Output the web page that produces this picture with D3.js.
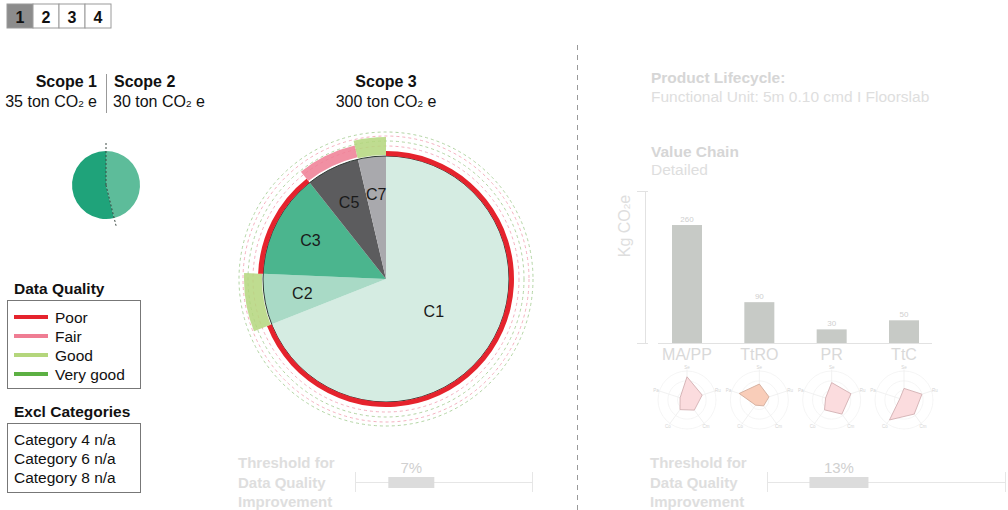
<!DOCTYPE html>
<html>
<head>
<meta charset="utf-8">
<script src="https://cdn.jsdelivr.net/npm/d3@7"></script>
<style>
  body { margin: 0; background: #fff; }
  svg { display: block; font-family: "Liberation Sans", Arial, Helvetica, sans-serif; }
</style>
</head>
<body>
<svg id="chart" width="1008" height="510"></svg>
<script>
// ---- data ----
const tabLabels = ["1", "2", "3", "4"];
const activeTab = "1";

const scopeNames = ["Scope 1", "Scope 2"];
const scopeValues = [35, 30];

const scope3Name = "Scope 3";
const scope3Total = 300;
const categoryNames = ["C1", "C2", "C3", "C5", "C7"];
const categoryValues = [207, 20, 41, 21, 11];
const categoryQuality = ["Poor", "Good", "Poor", "Fair", "Good"];

const qualityLevels = ["Poor", "Fair", "Good", "Very good"];
const excludedCategories = ["Category 4 n/a", "Category 6 n/a", "Category 8 n/a"];

const stageNames = ["MA/PP", "TtRO", "PR", "TtC"];
const stageValues = [260, 90, 30, 50];
const radarAxisLabels = ["Se", "Ru", "Cm", "Co", "Pa"];
const radarValues = [
  [0.80, 0.55, 0.43, 0.41, 0.25],
  [0.55, 0.35, 0.25, 0.22, 0.73],
  [0.60, 0.70, 0.60, 0.42, 0.22],
  [0.40, 0.65, 0.60, 0.85, 0.15]
];
const thresholdValues = [7, 13];

// ---- styles ----
const qualityColor = { "Poor": "#e5232d", "Fair": "#ef7d93", "Good": "#b4d67c", "Very good": "#5cb043" };
const categoryColor = { "C1": "#d5ece2", "C2": "#a9dac6", "C3": "#4bb58e", "C5": "#5c5c5e", "C7": "#a9a9ad" };
const scopeColor = ["#1fa37a", "#5dbc9a"];
const faint = "#d6d6d6", fainter = "#dedede";

const svg = d3.select("#chart");

function co2Text(sel, prefix, suffix) {
  sel.append("tspan").text(prefix + "CO");
  sel.append("tspan").attr("font-size", "0.62em").text("2");
  sel.append("tspan").text(suffix);
}

// ---- page tabs ----
const tabX = d3.scaleBand().domain(tabLabels).range([7, 111]);
const tabs = svg.append("g").selectAll("g").data(tabLabels).join("g");
tabs.append("rect")
  .attr("x", d => tabX(d)).attr("y", 4)
  .attr("width", tabX.bandwidth()).attr("height", 24)
  .attr("fill", d => d === activeTab ? "#8c8c8c" : "#fff")
  .attr("stroke", "#9a9a9a");
tabs.append("text")
  .attr("x", d => tabX(d) + tabX.bandwidth() / 2).attr("y", 23)
  .attr("text-anchor", "middle").attr("font-weight", "bold").attr("font-size", 16)
  .attr("fill", "#111").text(d => d);

// ---- scope 1 / scope 2 ----
const s12 = svg.append("g");
[0, 1].forEach(i => {
  const x = i === 0 ? 97 : 114;
  const anchor = i === 0 ? "end" : "start";
  s12.append("text").attr("x", x).attr("y", 87).attr("text-anchor", anchor)
    .attr("font-size", 16).attr("font-weight", "bold").attr("fill", "#111").text(scopeNames[i]);
  s12.append("text").attr("x", i === 0 ? 97 : 113).attr("y", 107).attr("text-anchor", anchor)
    .attr("font-size", 16).attr("fill", "#111")
    .call(co2Text, scopeValues[i] + " ton ", " e");
});
s12.append("line").attr("x1", 106.5).attr("x2", 106.5).attr("y1", 74).attr("y2", 113)
  .attr("stroke", "#999").attr("stroke-width", 1);

const smallPie = d3.pie().sort(null)(scopeValues.slice().reverse());
const smallArc = d3.arc().innerRadius(0).outerRadius(34);
const sp = svg.append("g").attr("transform", "translate(106,185)");
sp.selectAll("path").data(smallPie).join("path")
  .attr("d", smallArc)
  .attr("fill", (d, i) => scopeColor[1 - i]);
// boundary between the two scopes
sp.selectAll("line").data([smallPie[0].startAngle, smallPie[0].endAngle]).join("line")
  .attr("x1", 0).attr("y1", 0)
  .attr("x2", a => 44 * Math.sin(a)).attr("y2", a => -44 * Math.cos(a))
  .attr("stroke", "#3d4a44").attr("stroke-width", 1).attr("stroke-dasharray", "2,2");

// ---- scope 3 ----
svg.append("text").attr("x", 386).attr("y", 87).attr("text-anchor", "middle")
  .attr("font-size", 16).attr("font-weight", "bold").attr("fill", "#111").text(scope3Name);
svg.append("text").attr("x", 386).attr("y", 107).attr("text-anchor", "middle")
  .attr("font-size", 16).attr("fill", "#111")
  .call(co2Text, scope3Total + " ton ", " e");

const cx = 386, cy = 279, R = 123;
const main = svg.append("g").attr("transform", `translate(${cx},${cy})`);

// dashed guide rings for data quality levels
const ringRadii = [133, 138, 143, 147];
const ringColors = ["#f2a7b8", "#a9cf98", "#f2a7b8", "#a9cf98"];
main.selectAll("circle.ring").data(ringRadii).join("circle")
  .attr("class", "ring").attr("r", d => d)
  .attr("fill", "none").attr("stroke", (d, i) => ringColors[i])
  .attr("stroke-width", 0.9).attr("stroke-dasharray", "3,3");

const pie = d3.pie().sort(null).value(d => d.value);
const slices = pie(categoryNames.map((c, i) => ({ name: c, value: categoryValues[i], quality: categoryQuality[i] })));
const arc = d3.arc().innerRadius(0).outerRadius(R);
main.selectAll("path.slice").data(slices).join("path")
  .attr("class", "slice").attr("d", arc)
  .attr("fill", d => categoryColor[d.data.name]);
main.append("circle").attr("r", R).attr("fill", "none").attr("stroke", "#2f3a35").attr("stroke-width", 1);

// data quality bands per category
const bandRadius = { "Poor": [123, 128], "Fair": [125, 137], "Good": [124, 142], "Very good": [124, 142] };
const bandOpacity = { "Poor": 1, "Fair": 0.85, "Good": 0.85, "Very good": 0.85 };
main.selectAll("path.band").data(slices).join("path")
  .attr("class", "band")
  .attr("d", d => d3.arc().innerRadius(bandRadius[d.data.quality][0]).outerRadius(bandRadius[d.data.quality][1])(d))
  .attr("fill", d => qualityColor[d.data.quality])
  .attr("opacity", d => bandOpacity[d.data.quality]);

// category labels
const labelFactor = { "C1": 0.47 };
main.selectAll("text.cat").data(slices).join("text")
  .attr("class", "cat")
  .attr("transform", d => {
    const a = (d.startAngle + d.endAngle) / 2;
    const r = R * (labelFactor[d.data.name] || 0.69);
    return `translate(${r * Math.sin(a)},${-r * Math.cos(a)})`;
  })
  .attr("text-anchor", "middle").attr("dy", "0.36em")
  .attr("font-size", 16).attr("fill", "#1a1a1a").text(d => d.data.name);

// ---- legends ----
const lg = svg.append("g");
lg.append("text").attr("x", 14).attr("y", 294).attr("font-size", 15.5).attr("font-weight", "bold")
  .attr("fill", "#111").text("Data Quality");
lg.append("rect").attr("x", 7.5).attr("y", 300.5).attr("width", 133).attr("height", 88)
  .attr("fill", "none").attr("stroke", "#777");
const ly = d3.scalePoint().domain(qualityLevels).range([317, 374]);
lg.selectAll("line.q").data(qualityLevels).join("line").attr("class", "q")
  .attr("x1", 14).attr("x2", 48).attr("y1", d => ly(d)).attr("y2", d => ly(d))
  .attr("stroke", d => qualityColor[d]).attr("stroke-width", 4);
lg.selectAll("text.q").data(qualityLevels).join("text").attr("class", "q")
  .attr("x", 55).attr("y", d => ly(d) + 5.5).attr("font-size", 15.5).attr("fill", "#111").text(d => d);

lg.append("text").attr("x", 14).attr("y", 417).attr("font-size", 15.5).attr("font-weight", "bold")
  .attr("fill", "#111").text("Excl Categories");
lg.append("rect").attr("x", 7.5).attr("y", 423.5).attr("width", 133).attr("height", 69)
  .attr("fill", "none").attr("stroke", "#777");
const ey = d3.scalePoint().domain(excludedCategories).range([445, 483]);
lg.selectAll("text.ex").data(excludedCategories).join("text").attr("class", "ex")
  .attr("x", 14).attr("y", d => ey(d)).attr("font-size", 15.5).attr("fill", "#111").text(d => d);

// ---- divider ----
svg.append("line").attr("x1", 577.5).attr("x2", 577.5).attr("y1", 45).attr("y2", 510)
  .attr("stroke", "#9a9a9a").attr("stroke-width", 1).attr("stroke-dasharray", "5,5");

// ---- thresholds ----
function threshold(x0, value, scale, barWidth) {
  const g = svg.append("g");
  ["Threshold for", "Data Quality", "Improvement"].forEach((t, i) => {
    g.append("text").attr("x", x0).attr("y", 468 + i * 19.5).attr("font-size", 15)
      .attr("font-weight", "bold").attr("fill", fainter).text(t);
  });
  const [r0, r1] = scale.range();
  g.append("line").attr("x1", r0).attr("x2", r1).attr("y1", 482.5).attr("y2", 482.5)
    .attr("stroke", "#e6e6e6");
  g.selectAll("line.tk").data([r0, r1]).join("line").attr("class", "tk")
    .attr("x1", d => d + 0.5).attr("x2", d => d + 0.5).attr("y1", 472).attr("y2", 492)
    .attr("stroke", "#e6e6e6");
  g.append("rect").attr("x", scale(value) - barWidth / 2).attr("y", 477)
    .attr("width", barWidth).attr("height", 11).attr("fill", "#dcdcdc");
  g.append("text").attr("x", scale(value)).attr("y", 473).attr("text-anchor", "middle")
    .attr("font-size", 15).attr("fill", "#d0d0d0").text(value + "%");
}
threshold(238, thresholdValues[0], d3.scaleLinear().domain([0, 22]).range([355, 532]), 46);
threshold(650, thresholdValues[1], d3.scaleLinear().domain([0, 43]).range([767, 1005]), 59);

// ---- product lifecycle panel ----
const rp = svg.append("g");
rp.append("text").attr("x", 651).attr("y", 83).attr("font-size", 15.5).attr("font-weight", "bold")
  .attr("fill", faint).text("Product Lifecycle:");
rp.append("text").attr("x", 651).attr("y", 102).attr("font-size", 15.5)
  .attr("fill", fainter).text("Functional Unit: 5m 0.10 cmd I Floorslab");
rp.append("text").attr("x", 651).attr("y", 157).attr("font-size", 15.5).attr("font-weight", "bold")
  .attr("fill", faint).text("Value Chain");
rp.append("text").attr("x", 651).attr("y", 175).attr("font-size", 15.5)
  .attr("fill", fainter).text("Detailed");

const bx = d3.scalePoint().domain(stageNames).range([687, 904]);
const by = d3.scaleLinear().domain([0, 335]).range([343, 191]);
const bw = 30;
rp.append("line").attr("x1", 645.5).attr("x2", 645.5).attr("y1", by.range()[1]).attr("y2", by.range()[0])
  .attr("stroke", "#e2e2e2");
rp.selectAll("line.yt").data(by.range()).join("line").attr("class", "yt")
  .attr("x1", 637).attr("x2", 648).attr("y1", d => d + 0.5).attr("y2", d => d + 0.5).attr("stroke", "#e2e2e2");
rp.append("line").attr("x1", 658).attr("x2", 932).attr("y1", 343.5).attr("y2", 343.5).attr("stroke", "#e2e2e2");
rp.append("text").attr("transform", "translate(630,226) rotate(-90)").attr("text-anchor", "middle")
  .attr("font-size", 16).attr("fill", fainter).call(co2Text, "Kg ", "e");

rp.selectAll("rect.bar").data(stageNames).join("rect").attr("class", "bar")
  .attr("x", d => bx(d) - bw / 2).attr("width", bw)
  .attr("y", (d, i) => by(stageValues[i])).attr("height", (d, i) => by(0) - by(stageValues[i]))
  .attr("fill", "#c7cac6");
rp.selectAll("text.bv").data(stageNames).join("text").attr("class", "bv")
  .attr("x", d => bx(d)).attr("y", (d, i) => by(stageValues[i]) - 3)
  .attr("text-anchor", "middle").attr("font-size", 8).attr("fill", "#cfcfcf")
  .text((d, i) => stageValues[i]);
rp.selectAll("text.bn").data(stageNames).join("text").attr("class", "bn")
  .attr("x", d => bx(d)).attr("y", 360)
  .attr("text-anchor", "middle").attr("font-size", 16).attr("fill", "#d9d9d9").text(d => d);

// radar charts under each stage
const rr = d3.scaleLinear().domain([0, 1]).range([0, 29]);
const axisAngle = i => i * 2 * Math.PI / radarAxisLabels.length;
const radarFill = ["#fbdcde", "#f9cdb9", "#fbdcde", "#fbdcde"];
const radarStroke = ["#d3b0b2", "#d2ad9c", "#d3b0b2", "#d3b0b2"];
stageNames.forEach((s, k) => {
  const g = rp.append("g").attr("transform", `translate(${bx(s)},400)`);
  g.selectAll("circle").data([0.33, 0.66, 1]).join("circle")
    .attr("r", d => rr(d)).attr("fill", "none").attr("stroke", "#f3f3f3").attr("stroke-width", 0.8);
  g.selectAll("line").data(radarAxisLabels).join("line")
    .attr("x1", 0).attr("y1", 0)
    .attr("x2", (d, i) => rr(1.05) * Math.sin(axisAngle(i)))
    .attr("y2", (d, i) => -rr(1.05) * Math.cos(axisAngle(i)))
    .attr("stroke", "#eeeeee").attr("stroke-width", 0.8);
  g.append("path")
    .attr("d", d3.lineRadial().angle((d, i) => axisAngle(i)).radius(d => rr(d)).curve(d3.curveLinearClosed)(radarValues[k]))
    .attr("fill", radarFill[k]).attr("stroke", radarStroke[k]).attr("stroke-width", 0.9);
  g.selectAll("text").data(radarAxisLabels).join("text")
    .attr("x", (d, i) => rr(1.12) * Math.sin(axisAngle(i)))
    .attr("y", (d, i) => -rr(1.12) * Math.cos(axisAngle(i)))
    .attr("dy", "0.35em").attr("text-anchor", "middle")
    .attr("font-size", 4.5).attr("fill", "#d4d4d4").text(d => d);
});
</script>
</body>
</html>
